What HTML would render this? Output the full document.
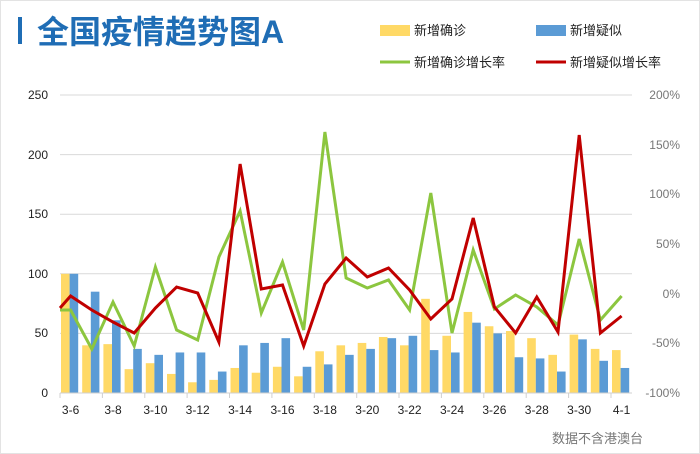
<!DOCTYPE html>
<html><head><meta charset="utf-8"><style>
body{margin:0;width:700px;height:454px;background:#fff;overflow:hidden}
svg{display:block}
text{font-family:"Liberation Sans","Noto Sans CJK SC",sans-serif}
</style></head><body>
<svg width="700" height="454" viewBox="0 0 700 454">
<rect x="0.5" y="0.5" width="699" height="453" fill="#fff" stroke="#e3e3e3"/>
<rect x="18" y="17" width="4" height="27" fill="#1f6db5"/>
<text x="37" y="43" font-size="32" font-weight="bold" fill="#1f6db5">全国疫情趋势图A</text>
<rect x="380" y="25" width="30" height="11" fill="#ffd966"/>
<text x="414" y="35" font-size="13" fill="#222">新增确诊</text>
<rect x="536" y="25" width="30" height="11" fill="#5b9bd5"/>
<text x="570" y="35" font-size="13" fill="#222">新增疑似</text>
<line x1="380" y1="62" x2="410" y2="62" stroke="#8cc63f" stroke-width="3"/>
<text x="414" y="67" font-size="13" fill="#222">新增确诊增长率</text>
<line x1="536" y1="62" x2="566" y2="62" stroke="#c00000" stroke-width="3"/>
<text x="570" y="67" font-size="13" fill="#222">新增疑似增长率</text>
<g stroke="#d9d9d9" stroke-width="1">
<line x1="60" y1="95" x2="632" y2="95"/><line x1="60" y1="154.6" x2="632" y2="154.6"/>
<line x1="60" y1="214.2" x2="632" y2="214.2"/><line x1="60" y1="273.8" x2="632" y2="273.8"/>
<line x1="60" y1="333.4" x2="632" y2="333.4"/>
</g>
<g font-size="12" fill="#222" text-anchor="end">
<text x="48" y="99">250</text><text x="48" y="159">200</text><text x="48" y="218">150</text>
<text x="48" y="278">100</text><text x="48" y="337">50</text><text x="48" y="397">0</text>
</g>
<g font-size="12" fill="#777" text-anchor="end">
<text x="680" y="99">200%</text><text x="680" y="149">150%</text><text x="680" y="198">100%</text><text x="680" y="248">50%</text>
<text x="680" y="298">0%</text><text x="680" y="347">-50%</text><text x="680" y="397">-100%</text>
</g>
<g transform="translate(0,393) scale(1,-1.192)">
<g fill="#ffd966">
<rect x="61" width="8.6" height="100"/><rect x="82.2" width="8.6" height="40"/><rect x="103.4" width="8.6" height="41"/>
<rect x="124.6" width="8.6" height="20"/><rect x="145.8" width="8.6" height="25"/><rect x="167" width="8.6" height="16"/>
<rect x="188.1" width="8.6" height="9"/><rect x="209.3" width="8.6" height="11"/><rect x="230.5" width="8.6" height="21"/>
<rect x="251.7" width="8.6" height="17"/><rect x="272.9" width="8.6" height="22"/><rect x="294.1" width="8.6" height="14"/>
<rect x="315.3" width="8.6" height="35"/><rect x="336.5" width="8.6" height="40"/><rect x="357.7" width="8.6" height="42"/>
<rect x="378.9" width="8.6" height="47"/><rect x="400" width="8.6" height="40"/><rect x="421.2" width="8.6" height="79"/>
<rect x="442.4" width="8.6" height="48"/><rect x="463.6" width="8.6" height="68"/><rect x="484.8" width="8.6" height="56"/>
<rect x="506" width="8.6" height="52"/><rect x="527.2" width="8.6" height="46"/><rect x="548.4" width="8.6" height="32"/>
<rect x="569.6" width="8.6" height="49"/><rect x="590.8" width="8.6" height="37"/><rect x="612" width="8.6" height="36"/>
</g>
<g fill="#5b9bd5">
<rect x="69.6" width="8.6" height="100"/><rect x="90.8" width="8.6" height="85"/><rect x="112" width="8.6" height="61"/>
<rect x="133.2" width="8.6" height="37"/><rect x="154.4" width="8.6" height="32"/><rect x="175.6" width="8.6" height="34"/>
<rect x="196.7" width="8.6" height="34"/><rect x="217.9" width="8.6" height="18"/><rect x="239.1" width="8.6" height="40"/>
<rect x="260.3" width="8.6" height="42"/><rect x="281.5" width="8.6" height="46"/><rect x="302.7" width="8.6" height="22"/>
<rect x="323.9" width="8.6" height="24"/><rect x="345.1" width="8.6" height="32"/><rect x="366.3" width="8.6" height="37"/>
<rect x="387.5" width="8.6" height="46"/><rect x="408.6" width="8.6" height="48"/><rect x="429.8" width="8.6" height="36"/>
<rect x="451" width="8.6" height="34"/><rect x="472.2" width="8.6" height="59"/><rect x="493.4" width="8.6" height="50"/>
<rect x="514.6" width="8.6" height="30"/><rect x="535.8" width="8.6" height="29"/><rect x="557" width="8.6" height="18"/>
<rect x="578.2" width="8.6" height="45"/><rect x="599.4" width="8.6" height="27"/><rect x="620.6" width="8.6" height="21"/>
</g>
</g>
<line x1="60" y1="393" x2="632" y2="393" stroke="#d0d0d0"/>
<g stroke="#d0d0d0">
<line x1="60" y1="393" x2="60" y2="398"/><line x1="102.4" y1="393" x2="102.4" y2="398"/><line x1="144.8" y1="393" x2="144.8" y2="398"/>
<line x1="187.1" y1="393" x2="187.1" y2="398"/><line x1="229.5" y1="393" x2="229.5" y2="398"/><line x1="271.9" y1="393" x2="271.9" y2="398"/>
<line x1="314.3" y1="393" x2="314.3" y2="398"/><line x1="356.7" y1="393" x2="356.7" y2="398"/><line x1="399" y1="393" x2="399" y2="398"/>
<line x1="441.4" y1="393" x2="441.4" y2="398"/><line x1="483.8" y1="393" x2="483.8" y2="398"/><line x1="526.2" y1="393" x2="526.2" y2="398"/>
<line x1="568.6" y1="393" x2="568.6" y2="398"/><line x1="611" y1="393" x2="611" y2="398"/>
</g>
<polyline fill="none" stroke="#8cc63f" stroke-width="3" points="60,310 70.6,310 91.8,349 113,302 134.2,346 155.4,267 176.6,330 197.7,340 218.9,257 240.1,211 261.3,313 282.5,262 303.7,330 324.9,132 346.1,278 367.3,288 388.5,280 409.6,310 430.8,193 452,333 473.2,250 494.4,309 515.6,295 536.8,307 558,325 579.2,239 600.4,320 621.6,296"/>
<polyline fill="none" stroke="#c00000" stroke-width="3" points="60,308 70.6,296 91.8,310 113,322 134.2,333 155.4,308 176.6,287 197.7,293 218.9,342 240.1,164 261.3,289 282.5,285 303.7,346 324.9,284 346.1,258 367.3,277 388.5,268 409.6,290 430.8,319 452,299 473.2,218 494.4,307 515.6,333 536.8,297 558,332 579.2,135 600.4,333 621.6,316"/>
<g font-size="12" fill="#222" text-anchor="middle">
<text x="70.6" y="414">3-6</text><text x="113" y="414">3-8</text><text x="155.4" y="414">3-10</text>
<text x="197.7" y="414">3-12</text><text x="240.1" y="414">3-14</text><text x="282.5" y="414">3-16</text>
<text x="324.9" y="414">3-18</text><text x="367.3" y="414">3-20</text><text x="409.6" y="414">3-22</text>
<text x="452" y="414">3-24</text><text x="494.4" y="414">3-26</text><text x="536.8" y="414">3-28</text>
<text x="579.2" y="414">3-30</text><text x="621.6" y="414">4-1</text>
</g>
<text x="552" y="443" font-size="13" fill="#777">数据不含港澳台</text>
</svg>
</body></html>
